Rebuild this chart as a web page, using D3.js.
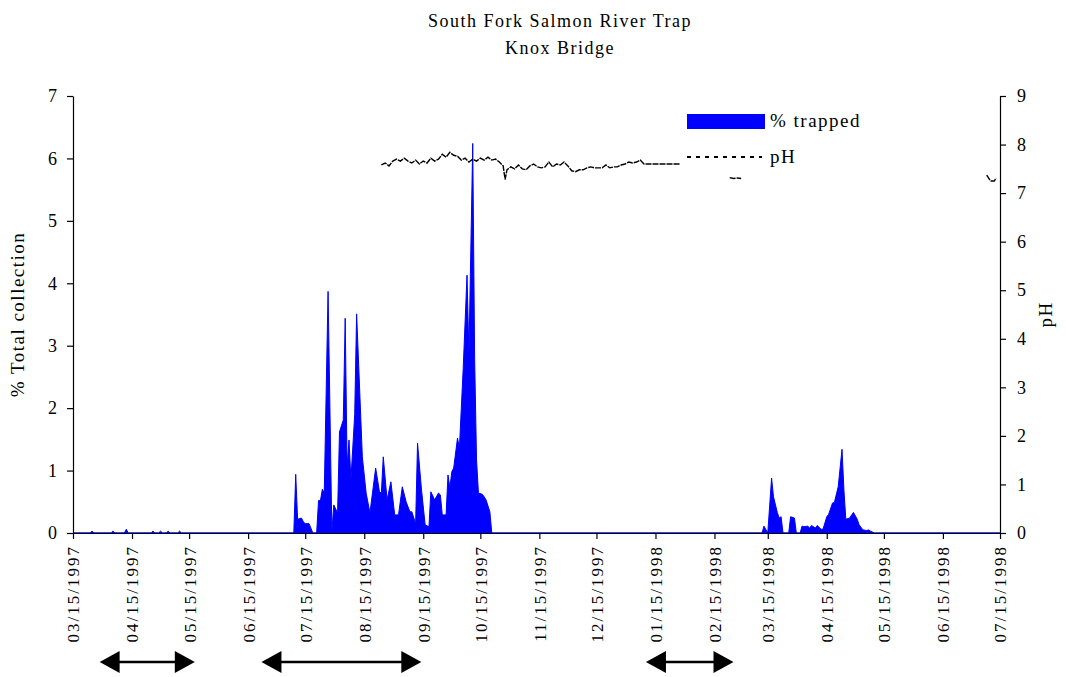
<!DOCTYPE html>
<html>
<head>
<meta charset="utf-8">
<script src="https://cdn.jsdelivr.net/npm/d3@7"></script>
<style>
  body { margin: 0; background: #fff; }
  text { font-family: "Liberation Serif", "Times New Roman", serif; fill: #000; }
</style>
</head>
<body>
<svg id="chart" width="1066" height="677"></svg>
<script>
// ---- data ----
const titleLines = ["South Fork Salmon River Trap", "Knox Bridge"];

// daily % of total collection (breakpoints of the trapped series)
const trapDates = [
  "1997-03-15",
  "1997-03-24","1997-03-25","1997-03-26",
  "1997-04-04","1997-04-05","1997-04-06",
  "1997-04-11","1997-04-12","1997-04-13",
  "1997-04-25","1997-04-26","1997-04-27",
  "1997-04-29","1997-04-30","1997-05-01",
  "1997-05-03","1997-05-04","1997-05-05",
  "1997-05-09","1997-05-10","1997-05-11",
  "1997-07-09","1997-07-10","1997-07-11","1997-07-13","1997-07-14","1997-07-15","1997-07-17","1997-07-19",
  "1997-07-21","1997-07-22","1997-07-23","1997-07-24","1997-07-25","1997-07-27","1997-07-29","1997-07-30",
  "1997-08-01","1997-08-02","1997-08-04","1997-08-05","1997-08-06","1997-08-07","1997-08-08","1997-08-10",
  "1997-08-11","1997-08-14","1997-08-16","1997-08-18","1997-08-19","1997-08-21","1997-08-23","1997-08-24",
  "1997-08-25","1997-08-27","1997-08-29","1997-08-31","1997-09-02","1997-09-04","1997-09-06","1997-09-08",
  "1997-09-09","1997-09-11","1997-09-12","1997-09-14","1997-09-16","1997-09-18","1997-09-19","1997-09-21",
  "1997-09-23","1997-09-24","1997-09-25","1997-09-27","1997-09-28","1997-09-29","1997-09-30","1997-10-01",
  "1997-10-03","1997-10-04","1997-10-06","1997-10-08","1997-10-09","1997-10-11","1997-10-12","1997-10-13",
  "1997-10-14","1997-10-16","1997-10-17","1997-10-18","1997-10-20","1997-10-21",
  "1998-03-12","1998-03-13","1998-03-15","1998-03-17","1998-03-18","1998-03-20","1998-03-21","1998-03-22",
  "1998-03-23","1998-03-26","1998-03-27","1998-03-29","1998-03-30","1998-04-01","1998-04-02","1998-04-03",
  "1998-04-05","1998-04-06","1998-04-07","1998-04-09","1998-04-10","1998-04-12","1998-04-13","1998-04-15",
  "1998-04-16","1998-04-18","1998-04-19","1998-04-21","1998-04-23","1998-04-24","1998-04-25","1998-04-27",
  "1998-04-29","1998-05-01","1998-05-02","1998-05-04","1998-05-06","1998-05-07","1998-05-08","1998-05-10",
  "1998-07-15"
];
const trapPct = [
  0,
  0,0.03,0,
  0,0.03,0,
  0,0.06,0,
  0,0.03,0,
  0,0.03,0,
  0,0.03,0,
  0,0.03,0,
  0,0.94,0.22,0.24,0.18,0.15,0.15,0,
  0,0.52,0.52,0.70,0.64,3.87,0.02,0.45,
  0.32,1.62,1.81,3.44,1.06,1.49,0.85,1.90,
  3.51,1.22,0.64,0.32,0.56,1.04,0.66,0.64,
  1.22,0.53,0.82,0.29,0.29,0.74,0.50,0.34,
  0.34,0.15,1.44,0.72,0.13,0.10,0.66,0.53,
  0.64,0.61,0.29,0.29,0.93,0.72,0.98,1.04,
  1.52,1.36,2.64,4.13,2.85,6.24,2.80,1.17,
  0.64,0.62,0.58,0.53,0.34,0,
  0,0.11,0,0.88,0.58,0.33,0.24,0.26,
  0,0,0.26,0.24,0,0,0.11,0.10,
  0.11,0.08,0.12,0.08,0.12,0.06,0.06,0.26,
  0.30,0.48,0.49,0.74,1.34,0.69,0.22,0.24,
  0.33,0.22,0.13,0.05,0.04,0.05,0.03,0,
  0
];

// pH readings (null marks a gap in the record)
const phDates = [
  "1997-08-24","1997-08-26","1997-08-28","1997-08-30","1997-09-01","1997-09-03","1997-09-05","1997-09-07",
  "1997-09-09","1997-09-11","1997-09-13","1997-09-15","1997-09-17","1997-09-19","1997-09-21","1997-09-23",
  "1997-09-25","1997-09-27","1997-09-29","1997-10-01","1997-10-03","1997-10-05","1997-10-07","1997-10-09",
  "1997-10-11","1997-10-13","1997-10-15","1997-10-17","1997-10-19","1997-10-21","1997-10-23","1997-10-25",
  "1997-10-27","1997-10-28","1997-10-29","1997-10-31","1997-11-02","1997-11-04","1997-11-06","1997-11-08",
  "1997-11-10","1997-11-12","1997-11-14","1997-11-16","1997-11-18","1997-11-20","1997-11-22","1997-11-24",
  "1997-11-26","1997-11-28","1997-11-30","1997-12-02","1997-12-04","1997-12-06","1997-12-08","1997-12-10",
  "1997-12-12","1997-12-14","1997-12-16","1997-12-18","1997-12-20","1997-12-22","1997-12-24","1997-12-26",
  "1997-12-28","1997-12-30","1998-01-01","1998-01-03","1998-01-05","1998-01-07","1998-01-09","1998-01-28",
  "1998-02-10",
  "1998-02-23","1998-02-25","1998-02-27","1998-03-01",
  "1998-05-01",
  "1998-07-08","1998-07-10","1998-07-12","1998-07-13"
];
const phValues = [
  7.58,7.62,7.56,7.66,7.70,7.66,7.72,7.66,
  7.62,7.68,7.60,7.66,7.62,7.72,7.66,7.70,
  7.80,7.74,7.84,7.78,7.76,7.68,7.72,7.64,
  7.70,7.66,7.72,7.68,7.74,7.68,7.70,7.64,
  7.56,7.28,7.48,7.54,7.50,7.58,7.50,7.48,
  7.56,7.60,7.54,7.52,7.54,7.64,7.54,7.60,
  7.58,7.64,7.56,7.46,7.44,7.48,7.48,7.52,
  7.54,7.52,7.52,7.52,7.58,7.52,7.54,7.54,
  7.58,7.60,7.64,7.62,7.64,7.68,7.60,7.60,
  null,
  7.32,7.30,7.31,7.30,
  null,
  7.37,7.25,7.25,7.31
];

const xTickLabels = [
  "03/15/1997","04/15/1997","05/15/1997","06/15/1997","07/15/1997","08/15/1997",
  "09/15/1997","10/15/1997","11/15/1997","12/15/1997","01/15/1998","02/15/1998",
  "03/15/1998","04/15/1998","05/15/1998","06/15/1998","07/15/1998"
];
const leftTicks = [0, 1, 2, 3, 4, 5, 6, 7];
const rightTicks = [0, 1, 2, 3, 4, 5, 6, 7, 8, 9];

// periods marked with double arrows under the date axis
const periodStarts = ["1997-03-29", "1997-06-22", "1998-01-10"];
const periodEnds   = ["1997-05-18", "1997-09-14", "1998-02-25"];

// ---- drawing ----
const svg = d3.select("#chart");
const parseISO = d3.utcParse("%Y-%m-%d");
const parseTick = d3.utcParse("%m/%d/%Y");
const fmtTick = d3.utcFormat("%m/%d/%Y");

const plot = { left: 73, right: 1000, top: 96, bottom: 533 };

const x = d3.scaleUtc()
  .domain([parseTick(xTickLabels[0]), parseTick(xTickLabels[xTickLabels.length - 1])])
  .range([plot.left, plot.right]);
const yL = d3.scaleLinear().domain([0, 7]).range([plot.bottom, plot.top]);
const yR = d3.scaleLinear().domain([0, 9]).range([plot.bottom, plot.top]);

const trapped = trapDates.map((d, i) => ({ date: parseISO(d), v: trapPct[i] }));
const ph = phDates.map((d, i) => ({ date: parseISO(d), v: phValues[i] }));

// title
svg.selectAll("text.title").data(titleLines).join("text")
  .attr("class", "title")
  .attr("x", 560).attr("y", (d, i) => 27 + i * 27)
  .attr("text-anchor", "middle")
  .style("font-size", "18px").style("letter-spacing", "1.5px")
  .text(d => d);

// trapped area
const area = d3.area()
  .x(d => x(d.date))
  .y0(yL(0))
  .y1(d => yL(d.v));
svg.append("path").datum(trapped)
  .attr("d", area)
  .attr("fill", "#0000ff")
  .attr("stroke", "#0000ff")
  .attr("stroke-width", 1)
  .attr("stroke-linejoin", "round");

// pH line
const line = d3.line()
  .defined(d => d.v !== null)
  .x(d => x(d.date))
  .y(d => yR(d.v));
svg.append("path").datum(ph)
  .attr("d", line)
  .attr("fill", "none")
  .attr("stroke", "#000")
  .attr("stroke-width", 1.4)
  .attr("stroke-dasharray", "6,1");

// axes
const axisFont = g => g.selectAll("text")
  .style("font-family", "'Liberation Serif', 'Times New Roman', serif")
  .style("font-size", "18px").attr("fill", "#000");

const gx = svg.append("g")
  .attr("transform", `translate(0,${plot.bottom})`)
  .call(d3.axisBottom(x)
    .tickValues(xTickLabels.map(parseTick))
    .tickFormat(fmtTick)
    .tickSize(6).tickSizeOuter(0));
gx.call(axisFont);
gx.selectAll("text")
  .style("font-size", "17px")
  .style("letter-spacing", "2px")
  .attr("transform", "rotate(-90)")
  .attr("text-anchor", "end")
  .attr("x", -12).attr("y", 0).attr("dy", "0.35em");

const gl = svg.append("g")
  .attr("transform", `translate(${plot.left},0)`)
  .call(d3.axisLeft(yL).tickValues(leftTicks).tickFormat(d3.format("d"))
    .tickSize(6).tickSizeOuter(0).tickPadding(10));
gl.call(axisFont);

const gr = svg.append("g")
  .attr("transform", `translate(${plot.right},0)`)
  .call(d3.axisRight(yR).tickValues(rightTicks).tickFormat(d3.format("d"))
    .tickSize(6).tickSizeOuter(0).tickPadding(11));
gr.call(axisFont);

svg.selectAll(".domain, .tick line").attr("stroke", "#000").attr("stroke-width", 1.2);

// axis titles
svg.append("text")
  .attr("transform", `translate(24,${(plot.top + plot.bottom) / 2}) rotate(-90)`)
  .attr("text-anchor", "middle")
  .style("font-size", "19px").style("letter-spacing", "1.5px")
  .text("% Total collection");
svg.append("text")
  .attr("transform", `translate(1052,${(plot.top + plot.bottom) / 2}) rotate(-90)`)
  .attr("text-anchor", "middle")
  .style("font-size", "19px").style("letter-spacing", "1.5px")
  .text("pH");

// legend
const lg = svg.append("g");
lg.append("rect").attr("x", 687).attr("y", 114).attr("width", 78).attr("height", 15)
  .attr("fill", "#0000ff");
lg.append("text").attr("x", 770).attr("y", 127)
  .style("font-size", "19px").style("letter-spacing", "1.5px").text("% trapped");
lg.append("line").attr("x1", 687).attr("x2", 762).attr("y1", 157).attr("y2", 157)
  .attr("stroke", "#000").attr("stroke-width", 2).attr("stroke-dasharray", "4,5");
lg.append("text").attr("x", 770).attr("y", 163)
  .style("font-size", "19px").style("letter-spacing", "1.5px").text("pH");

// period arrows
const arrowY = 662, headLen = 20, headHalf = 11;
const periods = periodStarts.map((s, i) => ({ x0: x(parseISO(s)), x1: x(parseISO(periodEnds[i])) }));
const ag = svg.append("g").selectAll("g").data(periods).join("g");
ag.append("line")
  .attr("x1", d => d.x0 + headLen - 2).attr("x2", d => d.x1 - headLen + 2)
  .attr("y1", arrowY).attr("y2", arrowY)
  .attr("stroke", "#000").attr("stroke-width", 2.5);
ag.append("path")
  .attr("d", d => `M${d.x0},${arrowY}L${d.x0 + headLen},${arrowY - headHalf}L${d.x0 + headLen},${arrowY + headHalf}Z`)
  .attr("fill", "#000");
ag.append("path")
  .attr("d", d => `M${d.x1},${arrowY}L${d.x1 - headLen},${arrowY - headHalf}L${d.x1 - headLen},${arrowY + headHalf}Z`)
  .attr("fill", "#000");
</script>
</body>
</html>
